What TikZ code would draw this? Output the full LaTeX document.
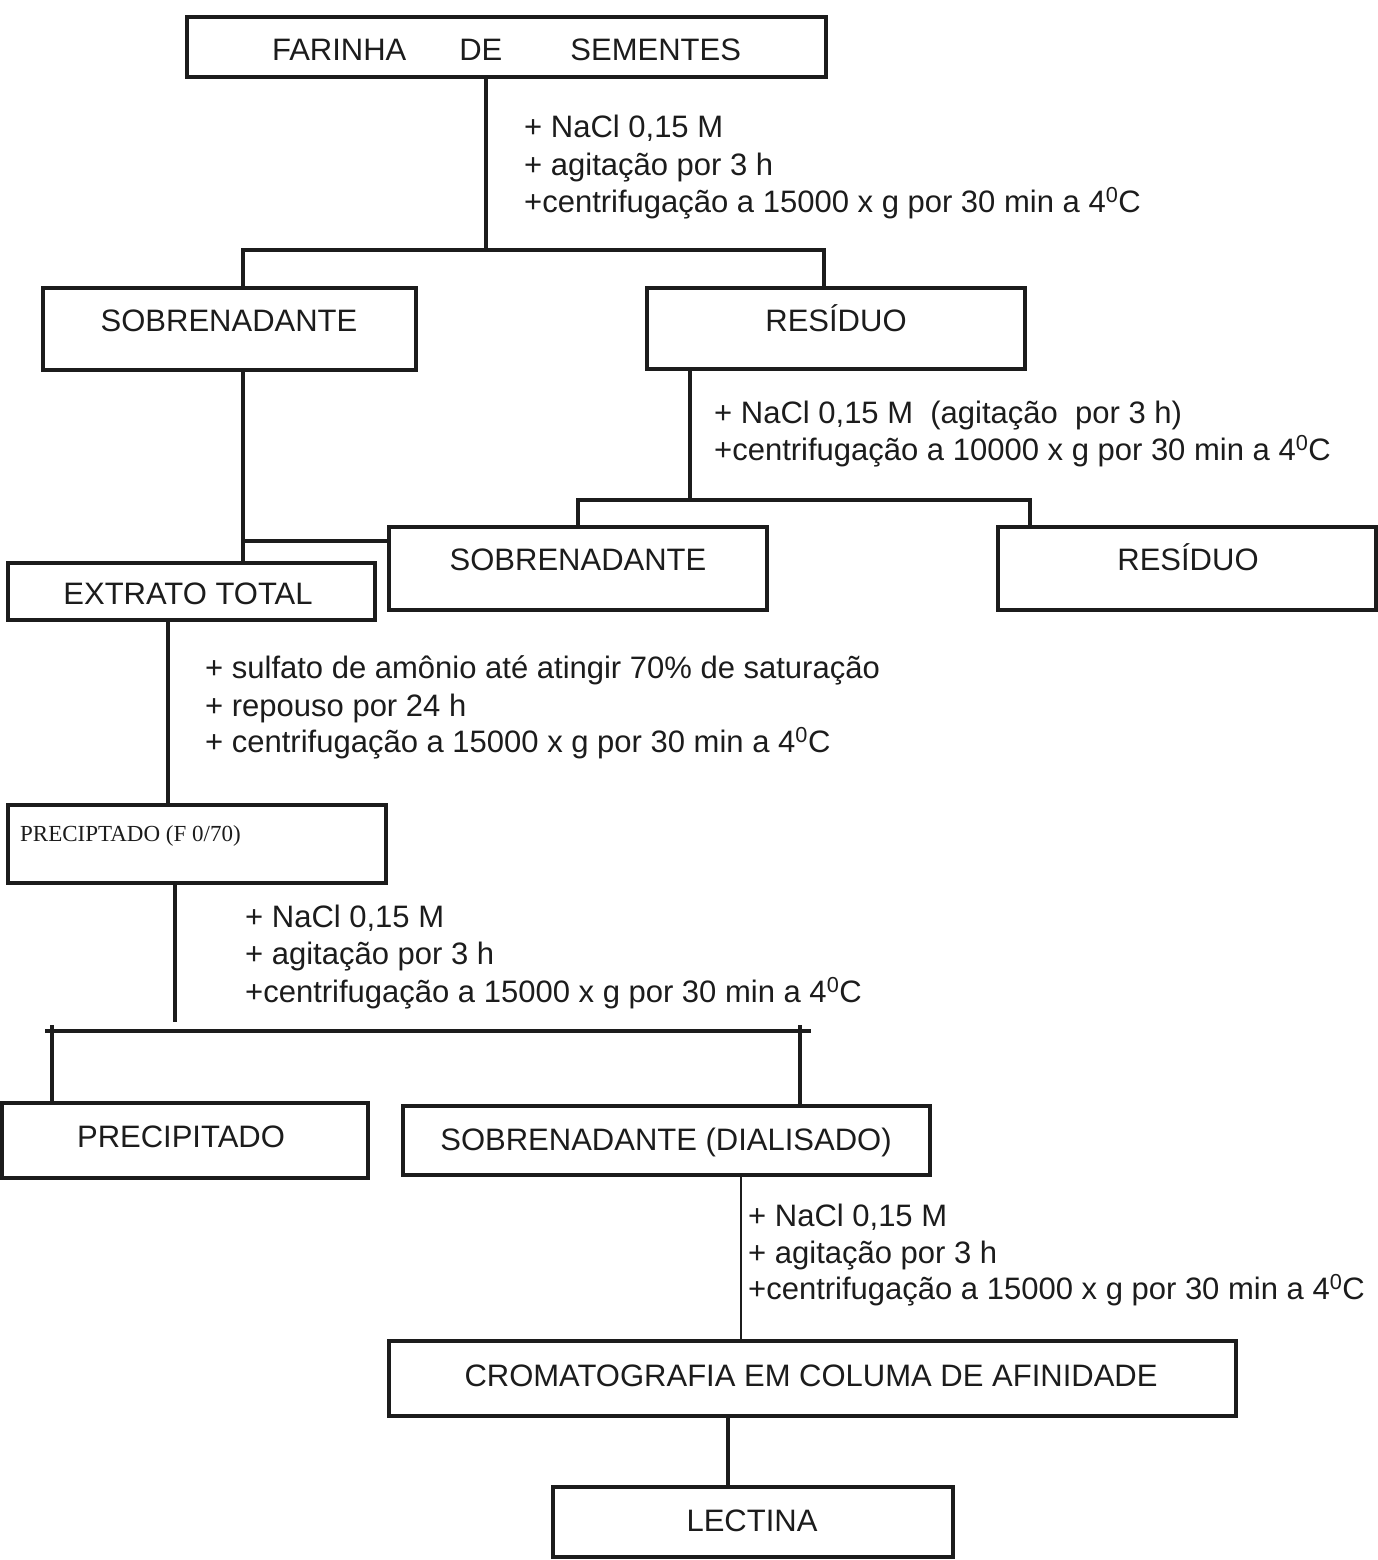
\documentclass[tikz,border=0pt]{standalone}
\usepackage{fontspec}
\setmainfont{Liberation Sans}
\newfontfamily\serifff{Liberation Serif}
\definecolor{ink}{HTML}{1C1C1C}
\begin{document}
\begin{tikzpicture}[x=1pt,y=-1pt,
  box/.style={draw=ink,line width=4.5pt,rectangle,inner sep=0pt},
  lbl/.style={inner sep=0pt,anchor=base,text=ink,font=\fontsize{31}{37}\selectfont},
  cond/.style={inner sep=0pt,anchor=base west,text=ink,font=\fontsize{31}{37}\selectfont},
  conn/.style={draw=ink,line width=4pt},
  thinconn/.style={draw=ink,line width=1.6pt}]
\useasboundingbox (0,0) rectangle (1378,1560);
\fill[white] (0,0) rectangle (1378,1560);

% boxes
\node[box,minimum width=639pt,minimum height=60pt] (farinha) at (506.5,47) {};
\node[box,minimum width=373pt,minimum height=82pt] (sob1) at (229.5,329) {};
\node[box,minimum width=378pt,minimum height=81pt] (res1) at (836,328.5) {};
\node[box,minimum width=378pt,minimum height=83pt] (sob2) at (578,568.5) {};
\node[box,minimum width=378pt,minimum height=83pt] (res2) at (1187,568.5) {};
\node[box,minimum width=367pt,minimum height=57pt] (extr) at (191.5,591.5) {};
\node[box,minimum width=378pt,minimum height=78pt] (prec1) at (197,844) {};
\node[box,minimum width=366pt,minimum height=75pt] (prec2) at (185,1140.5) {};
\node[box,minimum width=527pt,minimum height=69pt] (dial) at (666.5,1140.5) {};
\node[box,minimum width=847pt,minimum height=75pt] (crom) at (812.5,1378.5) {};
\node[box,minimum width=400pt,minimum height=70pt] (lect) at (753,1522) {};

% box labels
\node[lbl] (tfarinha) at (506.5,61) {FARINHA\hspace{53pt}DE\hspace{68pt}SEMENTES};
\node[lbl] (tsob1) at (229,331) {SOBRENADANTE};
\node[lbl] (tres1) at (836,331) {RESÍDUO};
\node[lbl] (tsob2) at (578,570) {SOBRENADANTE};
\node[lbl] (tres2) at (1188,570) {RESÍDUO};
\node[lbl] (textr) at (188,604) {EXTRATO TOTAL};
\node[inner sep=0pt,anchor=base west,text=ink,font=\serifff\fontsize{23}{26}\selectfont] (tprec1) at (20,841) {PRECIPTADO (F 0/70)};
\node[lbl] (tprec2) at (181,1147) {PRECIPITADO};
\node[lbl] (tdial) at (666,1150) {SOBRENADANTE (DIALISADO)};
\node[lbl] (tcrom) at (811,1386) {CROMATOGRAFIA EM COLUMA DE AFINIDADE};
\node[lbl] (tlect) at (752,1531) {LECTINA};

% conditions
\node[cond] (c1a) at (524,138) {+ NaCl 0,15 M};
\node[cond] (c1b) at (524,175) {+ agitação por 3 h};
\node[cond] (c1c) at (524,212) {+centrifugação a 15000 x g por 30 min a 4\textsuperscript{0}C};

\node[cond] (c2a) at (714,423) {+ NaCl 0,15 M\ \ (agitação\ \ por 3 h)};
\node[cond] (c2b) at (714,460) {+centrifugação a 10000 x g por 30 min a 4\textsuperscript{0}C};

\node[cond] (c3a) at (205,678) {+ sulfato de amônio até atingir 70\% de saturação};
\node[cond] (c3b) at (205,716) {+ repouso por 24 h};
\node[cond] (c3c) at (205,752) {+ centrifugação a 15000 x g por 30 min a 4\textsuperscript{0}C};

\node[cond] (c4a) at (245,927) {+ NaCl 0,15 M};
\node[cond] (c4b) at (245,964) {+ agitação por 3 h};
\node[cond] (c4c) at (245,1002) {+centrifugação a 15000 x g por 30 min a 4\textsuperscript{0}C};

\node[cond] (c5a) at (748,1226) {+ NaCl 0,15 M};
\node[cond] (c5b) at (748,1263) {+ agitação por 3 h};
\node[cond] (c5c) at (748,1299) {+centrifugação a 15000 x g por 30 min a 4\textsuperscript{0}C};

% junction coordinates
\coordinate (j1) at (486,250);
\coordinate (jL) at (243,250);
\coordinate (jR) at (824,250);
\coordinate (j2) at (690,500);
\coordinate (j2L) at (578,500);
\coordinate (j2R) at (1030,500);
\coordinate (j3) at (243,541);
\coordinate (j4) at (168,700);
\coordinate (j5) at (175,1022);
\coordinate (hL) at (45,1031);
\coordinate (hR) at (811,1031);
\coordinate (tL) at (52,1025);
\coordinate (tR) at (800,1025);
\coordinate (j6) at (741,1300);
\coordinate (j7) at (728,1450);

% connectors
\draw[conn] (farinha.south -| j1) -- (j1);
\draw[conn] (sob1.north -| jL) -- (jL) -- (jR) -- (res1.north -| jR);
\draw[conn] (res1.south -| j2) -- (j2);
\draw[conn] (sob2.north -| j2L) -- (j2L) -- (j2R) -- (res2.north -| j2R);
\draw[conn] (sob1.south -| j3) -- (extr.north -| j3);
\draw[conn] (j3) -- (sob2.west |- j3);
\draw[conn] (extr.south -| j4) -- (prec1.north -| j4);
\draw[conn] (prec1.south -| j5) -- (j5);
\draw[conn] (hL) -- (hR);
\draw[conn] (tL) -- (prec2.north -| tL);
\draw[conn] (tR) -- (dial.north -| tR);
\draw[thinconn] (dial.south -| j6) -- (crom.north -| j6);
\draw[conn] (crom.south -| j7) -- (lect.north -| j7);
\end{tikzpicture}
\end{document}
